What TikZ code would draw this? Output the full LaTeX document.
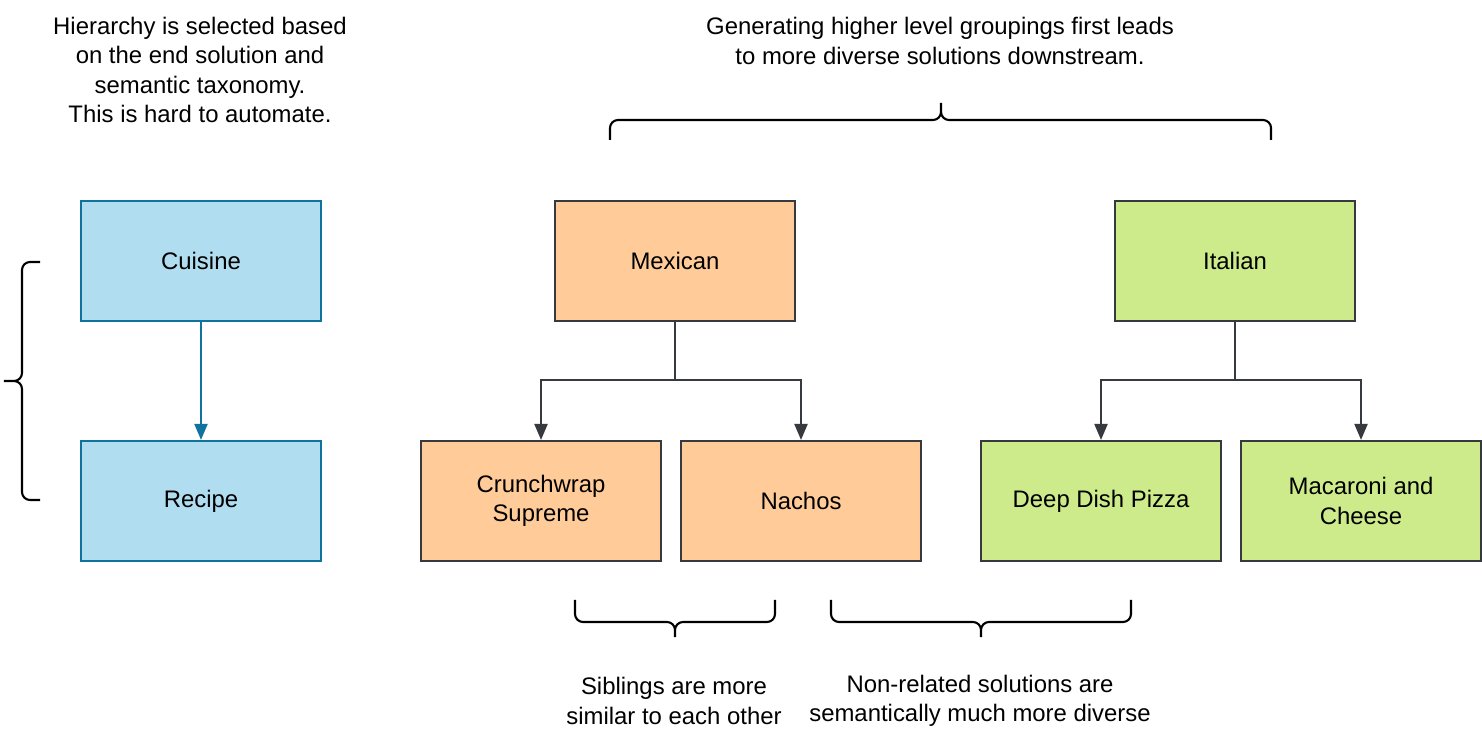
\documentclass[tikz,border=0pt]{standalone}
\usepackage{fontspec}
\setmainfont{Liberation Sans}
\usetikzlibrary{arrows.meta}

\definecolor{blueFill}{HTML}{B1DDF0}
\definecolor{blueLine}{HTML}{10739E}
\definecolor{orangeFill}{HTML}{FFCC99}
\definecolor{greenFill}{HTML}{CDEB8B}
\definecolor{darkLine}{HTML}{36393D}

\begin{document}
\begin{tikzpicture}[line width=0.6pt, font=\fontsize{6.8}{8.4}\selectfont,
    box/.style={rectangle, draw, minimum width=2.4cm, minimum height=1.2cm,
                inner sep=0pt, align=center},
    link/.style={draw=darkLine, -{Triangle[length=0.16cm, width=0.13cm]}},
    curly/.style={rounded corners=0.08cm}]
  \useasboundingbox (0,0) rectangle (14.82,-7.40);
  \path node (cuisine)  at (2.01,-2.61)  [box, draw=blueLine, fill=blueFill] {Cuisine}
        node (recipe)   at (2.01,-5.01)  [box, draw=blueLine, fill=blueFill] {Recipe}
        %
        node (mexican)  at (6.75,-2.61)  [box, draw=darkLine, fill=orangeFill] {Mexican}
        node (crunch)   at (5.41,-5.01)  [box, draw=darkLine, fill=orangeFill] {Crunchwrap\\Supreme}
        node (nachos)   at (8.01,-5.01)  [box, draw=darkLine, fill=orangeFill] {Nachos}
        %
        node (italian)  at (12.35,-2.61) [box, draw=darkLine, fill=greenFill] {Italian}
        node (pizza)    at (11.01,-5.01) [box, draw=darkLine, fill=greenFill] {Deep Dish Pizza}
        node (macaroni) at (13.61,-5.01) [box, draw=darkLine, fill=greenFill] {Macaroni and\\Cheese}
        %
        node (noteL)    at (2.00,-0.70)  [align=center] {Hierarchy is selected based\\on the end solution and\\semantic taxonomy.\\This is hard to automate.}
        node (noteT)    at (9.40,-0.41)  [align=center] {Generating higher level groupings first leads\\to more diverse solutions downstream.}
        node (noteS)    at (6.74,-7.01)  [align=center] {Siblings are more\\similar to each other}
        node (noteN)    at (9.80,-7.01)  [align=center] {Non-related solutions are\\semantically much more diverse};
  \coordinate (forkM) at (6.75,-3.80);
  \coordinate (forkI) at (12.35,-3.80);
  \draw[link, draw=blueLine, fill=blueLine] (cuisine) -- (recipe);
  \draw[draw=darkLine] (mexican) -- (forkM)
        (italian) -- (forkI);
  \draw[link] (forkM) -| (crunch);
  \draw[link] (forkM) -| (nachos);
  \draw[link] (forkI) -| (pizza);
  \draw[link] (forkI) -| (macaroni);
  % braces
  \draw[curly] (0.40,-2.62) -- (0.22,-2.62) -- (0.22,-3.81) -- (0.04,-3.81)
               (0.40,-5.00) -- (0.22,-5.00) -- (0.22,-3.81) -- (0.04,-3.81);
  \draw[curly] (6.10,-1.40) -- (6.10,-1.20) -- (9.41,-1.20) -- (9.41,-1.03)
               (12.71,-1.40) -- (12.71,-1.20) -- (9.41,-1.20) -- (9.41,-1.03);
  \draw[curly] (5.75,-6.00) -- (5.75,-6.22) -- (6.75,-6.22) -- (6.75,-6.37)
               (7.75,-6.00) -- (7.75,-6.22) -- (6.75,-6.22) -- (6.75,-6.37);
  \draw[curly] (8.31,-6.00) -- (8.31,-6.22) -- (9.81,-6.22) -- (9.81,-6.37)
               (11.31,-6.00) -- (11.31,-6.22) -- (9.81,-6.22) -- (9.81,-6.37);
\end{tikzpicture}
\end{document}
